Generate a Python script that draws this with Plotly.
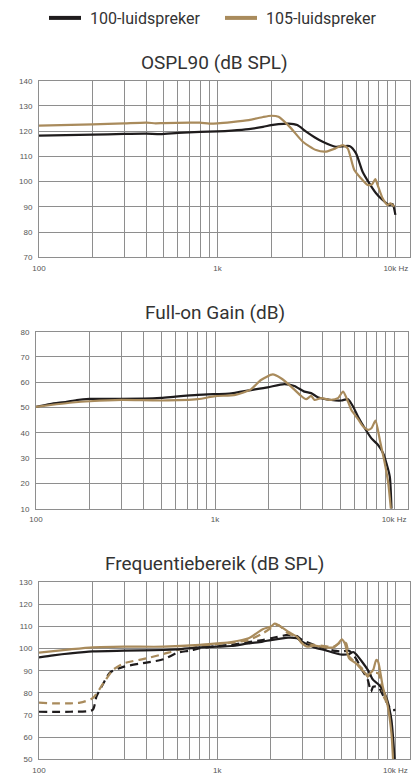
import plotly.graph_objects as go

# ---------------- data ----------------
# Chart 1: OSPL90 (dB SPL)
ospl_f_100 = [100, 200, 300, 400, 480, 600, 800, 1000, 1200, 1500, 1800, 2000, 2200, 2500, 2800, 3140, 3500, 3890,
              4600, 5490, 5980, 6510, 7100, 7740, 8430, 9190, 9580, 9940]
ospl_v_100 = [118.2, 118.6, 118.9, 119.0, 118.8, 119.3, 119.7, 119.9, 120.2, 120.8, 121.7, 122.4, 122.8, 123.0, 122.4,
              119.8, 117.6, 115.8, 113.8, 114.1, 111.2, 103.9, 99.3, 95.4, 92.7, 90.7, 91.1, 86.8]
ospl_f_105 = [100, 200, 300, 400, 450, 500, 700, 800, 900, 1000, 1200, 1500, 1800, 2000, 2200, 2535, 3010, 3570, 4060,
              4600, 5040, 5370, 5850, 6380, 6950, 7350, 7670, 7900, 8430, 8990, 9330, 9800]
ospl_v_105 = [122.2, 122.7, 123.1, 123.4, 123.1, 123.2, 123.4, 123.4, 123.0, 123.1, 123.6, 124.4, 125.6, 126.1, 125.7,
              121.8, 115.8, 112.5, 111.9, 113.2, 114.5, 113.2, 104.6, 101.3, 98.7, 98.9, 101.0, 98.7, 93.4, 90.7, 91.4, 90.1]

# Chart 2: Full-on Gain (dB)
gain_f_100 = [100, 120, 148, 169, 200, 400, 500, 600, 800, 1000, 1200, 1585, 1968, 2438, 2773, 3155, 3440, 3750, 4455,
              5070, 5530, 5900, 6290, 6860, 7470, 8140, 8680, 9060, 9460, 9670]
gain_v_100 = [50.3, 51.4, 52.3, 53.0, 53.4, 53.5, 53.8, 54.3, 55.0, 55.3, 55.5, 56.9, 58.0, 59.3, 58.5, 56.3, 55.7,
              54.1, 53.0, 52.8, 53.3, 50.4, 46.4, 41.8, 37.8, 35.2, 31.9, 28.0, 22.7, 10.0]
gain_f_105 = [100, 130, 160, 200, 300, 500, 800, 1000, 1300, 1585, 1805, 2100, 2335, 2660, 3025, 3225, 3440, 3595, 3915,
              4455, 4855, 5185, 5530, 5770, 6290, 6710, 7160, 7470, 7870, 8320, 8870, 9270, 9590]
gain_v_105 = [50.3, 51.3, 52.0, 52.5, 53.0, 52.8, 53.3, 54.5, 55.0, 57.2, 60.9, 63.1, 61.6, 58.3, 54.6, 53.3, 54.6,
              53.0, 53.7, 53.0, 53.7, 56.3, 52.3, 49.0, 45.4, 42.5, 41.2, 41.8, 44.8, 37.2, 28.0, 20.1, 10.0]

# Chart 3: Frequentiebereik (dB SPL)
fr_f_100 = [100, 120, 150, 200, 300, 500, 600, 800, 1000, 1200, 1500, 1800, 2000, 2500, 2800, 3000, 3500, 4000, 4500,
            5000, 5500, 5800, 6000, 6500, 7000, 7500, 8000, 8500, 9000, 9500, 9700, 9900]
fr_v_100 = [96.1, 97.0, 97.9, 98.8, 99.1, 99.4, 99.7, 100.6, 100.9, 101.2, 102.4, 103.2, 103.9, 105.0, 104.7, 103.2,
            100.6, 99.4, 98.2, 97.3, 97.6, 98.5, 97.6, 94.1, 90.4, 85.9, 84.0, 81.3, 76.8, 67.8, 60.2, 50.0]
fr_f_105 = [100, 150, 200, 300, 500, 800, 1000, 1200, 1500, 1800, 2000, 2100, 2200, 2500, 2800, 3000, 3200, 3500, 4000,
            4500, 4800, 5000, 5200, 5500, 6000, 6500, 7000, 7500, 7800, 8000, 8500, 9000, 9500, 9700]
fr_v_105 = [98.2, 99.7, 100.6, 100.9, 100.9, 101.7, 102.4, 103.0, 104.7, 108.8, 110.0, 111.3, 110.7, 107.7, 105.4,
            102.4, 100.9, 101.4, 100.6, 100.6, 102.4, 104.2, 102.4, 95.6, 93.4, 90.4, 88.1, 90.4, 94.9, 94.1, 82.8,
            75.3, 61.8, 50.0]
fr_f_100_open = [100, 150, 200, 210, 230, 250, 300, 400, 500, 600, 700, 800, 1000, 1200, 1500, 1800, 2000, 2500, 2800,
                 3000, 3500, 4000, 4500, 5000, 5500, 6000, 6500, 7000, 7300, 7500, 8000, 8500, 9000, 9500, 10000]
fr_v_100_open = [71.5, 71.5, 72.3, 78.3, 84.4, 89.2, 91.9, 93.7, 95.2, 98.2, 99.1, 100.2, 101.2, 101.8, 103.0, 103.9,
                 104.7, 106.2, 105.7, 103.9, 101.7, 100.2, 99.1, 98.7, 99.1, 95.6, 90.4, 85.9, 80.6, 82.8, 82.8, 79.1,
                 75.3, 72.3, 72.3]
fr_f_105_open = [100, 120, 150, 170, 200, 230, 260, 300, 400, 500, 600, 800, 1000, 1200, 1500, 1800, 2000, 2200, 2500,
                 2800, 3000, 3500, 4000, 4500, 5000, 5300, 5500, 6000, 6500, 7000, 7500, 8000, 8600, 9000, 9500]
fr_v_105_open = [75.6, 75.3, 75.3, 75.6, 77.6, 84.4, 90.4, 93.4, 95.6, 97.6, 99.4, 100.9, 102.1, 102.7, 103.9, 106.9,
                 109.2, 110.7, 106.9, 105.4, 102.4, 101.7, 101.2, 100.9, 103.2, 102.4, 96.4, 93.7, 91.1, 87.4, 88.9,
                 88.9, 78.3, 75.3, 67.8]

series_names = ["100-luidspreker", "105-luidspreker"]
titles = ["OSPL90 (dB SPL)", "Full-on Gain (dB)", "Frequentiebereik (dB SPL)"]
y_ranges = [(70, 140), (10, 80), (50, 130)]

grid_freqs = [100, 200, 300, 400, 500, 600, 700, 800, 900,
              1000, 2000, 3000, 4000, 5000, 6000, 7000, 8000, 9000, 10000]
grid_labels = ["100", "", "", "", "", "", "", "", "",
               "1k", "", "", "", "", "", "", "", "", "10k Hz"]

# ---------------- style ----------------
BLACK = "#1f1c1d"
GOLD = "#a98b5c"
GRID = "#8e8e8e"
W, H = 420, 778
LW = 2.2

fig = go.Figure()

def add(xs, ys, color, axis_idx, dash="solid"):
    sfx = "" if axis_idx == 1 else str(axis_idx)
    fig.add_trace(go.Scatter(x=xs, y=ys, mode="lines", showlegend=False,
                             line=dict(color=color, width=LW, dash=dash, shape="spline", smoothing=0.6),
                             xaxis="x" + sfx, yaxis="y" + sfx, hoverinfo="skip"))

add(ospl_f_100, ospl_v_100, BLACK, 1)
add(ospl_f_105, ospl_v_105, GOLD, 1)
add(gain_f_100, gain_v_100, BLACK, 2)
add(gain_f_105, gain_v_105, GOLD, 2)
add(fr_f_100_open, fr_v_100_open, BLACK, 3, dash="8px,5px")
add(fr_f_105_open, fr_v_105_open, GOLD, 3, dash="8px,5px")
add(fr_f_100, fr_v_100, BLACK, 3)
add(fr_f_105, fr_v_105, GOLD, 3)

# legend entries (one legend box per entry for exact placement)
legend_x = [44, 220]
for k, (name, color) in enumerate(zip(series_names, [BLACK, GOLD])):
    fig.add_trace(go.Scatter(x=[None], y=[None], mode="lines", name="\u00a0" + name,
                             legend="legend" if k == 0 else "legend2",
                             line=dict(color=color, width=4), showlegend=True))

# pixel boxes of plot areas: (left, right, top, bottom)
boxes = [(39, 410, 80.7, 257.3), (36, 408.3, 331.7, 508.7), (39, 409.5, 582.3, 759.3)]
title_pos = [(215, 63), (215, 313), (214, 563.5)]

leg_common = dict(orientation="h", yanchor="middle", y=1 - 18 / H, xanchor="left",
                  font=dict(family="Roboto", size=16, color="#333333"),
                  itemwidth=32, bgcolor="rgba(0,0,0,0)", borderwidth=0)

layout = dict(width=W, height=H, margin=dict(l=0, r=0, t=0, b=0, autoexpand=False),
              paper_bgcolor="white", plot_bgcolor="white",
              showlegend=True, hovermode=False,
              legend=dict(x=legend_x[0] / W, **leg_common),
              legend2=dict(x=legend_x[1] / W, **leg_common),
              annotations=[])

for i, ((l, r, t, b), (yr0, yr1)) in enumerate(zip(boxes, y_ranges)):
    sfx = "" if i == 0 else str(i + 1)
    layout["xaxis" + sfx] = dict(
        type="log", range=[2, 4.0792], domain=[l / W, r / W], anchor="y" + sfx,
        tickmode="array", tickvals=grid_freqs, ticktext=grid_labels,
        showgrid=True, gridcolor=GRID, gridwidth=1,
        showline=True, linecolor=GRID, linewidth=1, mirror=True,
        ticks="", ticklabelstandoff=3, automargin=False,
        tickfont=dict(family="Liberation Sans", size=8, color="#555555"),
        zeroline=False, fixedrange=True)
    layout["yaxis" + sfx] = dict(
        range=[yr0, yr1], domain=[1 - b / H, 1 - t / H], anchor="x" + sfx,
        dtick=10, tick0=0,
        showgrid=True, gridcolor=GRID, gridwidth=1,
        showline=True, linecolor=GRID, linewidth=1, mirror=True,
        ticks="", ticklabelstandoff=4, automargin=False,
        tickfont=dict(family="Liberation Sans", size=8, color="#555555"),
        zeroline=False, fixedrange=True)
    tx, ty = title_pos[i]
    layout["annotations"].append(dict(
        text=titles[i], xref="paper", yref="paper", x=tx / W, y=1 - ty / H,
        xanchor="center", yanchor="middle", showarrow=False,
        font=dict(family="Roboto", size=19, color="#333333")))

fig.update_layout(**layout)
fig.write_html("out.html", config={"displayModeBar": False, "staticPlot": True},
               post_script="document.body.style.margin='0';document.body.style.overflow='hidden';")
